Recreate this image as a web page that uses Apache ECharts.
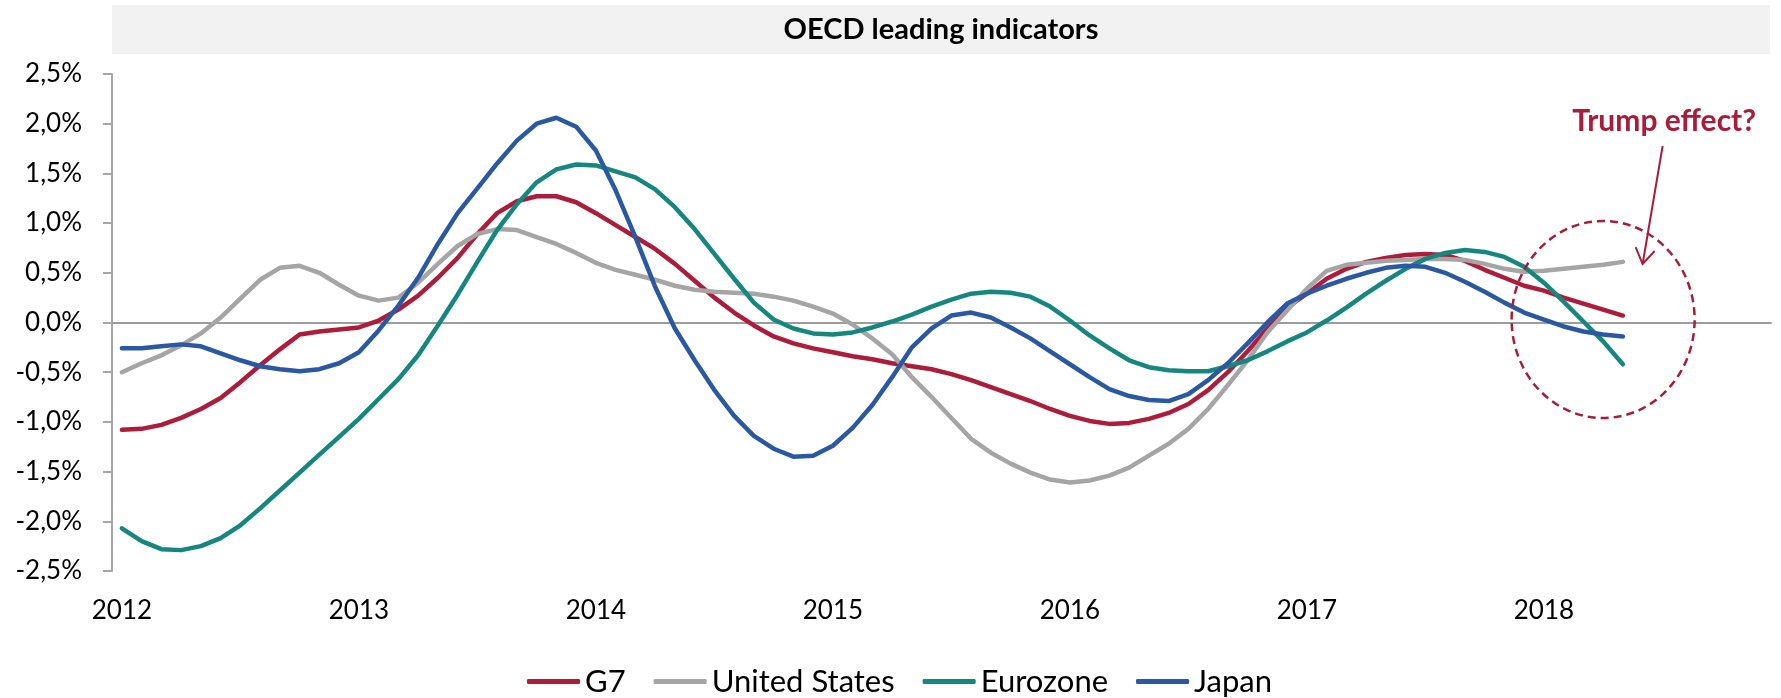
<!DOCTYPE html>
<html><head><meta charset="utf-8">
<script src="https://cdn.jsdelivr.net/npm/echarts@6/dist/echarts.min.js"></script>
<style>html,body{margin:0;padding:0;background:#fff}#c{width:1781px;height:698px}</style>
</head><body><div id="c"></div>
<script>
// ---- data ----
const years = ['2012','2013','2014','2015','2016','2017','2018'];
const months = ['01','02','03','04','05','06','07','08','09','10','11','12'];
const categories = [];
years.forEach(y => months.forEach(m => categories.push(y + '-' + m)));

const seriesNames = ['G7', 'United States', 'Eurozone', 'Japan'];

const g7 = [-1.08,-1.07,-1.03,-0.96,-0.87,-0.76,-0.60,-0.43,-0.27,-0.12,-0.09,-0.07,
  -0.05,0.02,0.13,0.27,0.45,0.65,0.89,1.10,1.22,1.27,1.27,1.21,
  1.10,0.98,0.86,0.74,0.59,0.42,0.25,0.10,-0.03,-0.14,-0.21,-0.26,
  -0.30,-0.34,-0.37,-0.41,-0.44,-0.47,-0.52,-0.58,-0.65,-0.72,-0.79,-0.87,
  -0.94,-0.99,-1.02,-1.01,-0.97,-0.91,-0.82,-0.68,-0.50,-0.29,-0.06,0.15,
  0.29,0.44,0.54,0.61,0.65,0.68,0.69,0.68,0.62,0.53,0.45,0.37,
  0.32,0.25,0.19,0.13,0.07];

const unitedStates = [-0.50,-0.41,-0.33,-0.23,-0.11,0.05,0.24,0.43,0.55,0.57,0.50,0.38,
  0.27,0.22,0.25,0.40,0.59,0.77,0.89,0.94,0.93,0.86,0.79,0.70,
  0.60,0.53,0.48,0.43,0.37,0.33,0.31,0.30,0.29,0.26,0.22,0.16,
  0.09,-0.02,-0.16,-0.32,-0.55,-0.75,-0.96,-1.17,-1.31,-1.42,-1.51,-1.58,
  -1.61,-1.59,-1.54,-1.46,-1.34,-1.22,-1.07,-0.87,-0.63,-0.38,-0.10,0.12,
  0.34,0.52,0.58,0.60,0.62,0.63,0.64,0.64,0.63,0.59,0.54,0.51,
  0.52,0.54,0.56,0.58,0.61];

const eurozone = [-2.07,-2.20,-2.28,-2.29,-2.25,-2.17,-2.04,-1.87,-1.69,-1.51,-1.33,-1.15,
  -0.97,-0.77,-0.57,-0.33,-0.03,0.28,0.61,0.93,1.19,1.41,1.54,1.59,
  1.58,1.52,1.46,1.34,1.16,0.94,0.69,0.44,0.20,0.03,-0.06,-0.11,
  -0.12,-0.10,-0.05,0.01,0.08,0.16,0.23,0.29,0.31,0.30,0.26,0.16,
  0.02,-0.13,-0.26,-0.38,-0.45,-0.48,-0.49,-0.49,-0.44,-0.38,-0.29,-0.19,
  -0.10,0.02,0.15,0.29,0.42,0.54,0.64,0.70,0.73,0.71,0.66,0.56,
  0.40,0.21,0.01,-0.19,-0.42];

const japan = [-0.26,-0.26,-0.24,-0.22,-0.24,-0.31,-0.38,-0.44,-0.47,-0.49,-0.47,-0.41,
  -0.30,-0.08,0.17,0.45,0.79,1.10,1.35,1.60,1.83,2.00,2.06,1.97,
  1.73,1.33,0.86,0.36,-0.06,-0.38,-0.68,-0.94,-1.14,-1.27,-1.35,-1.34,
  -1.24,-1.06,-0.83,-0.55,-0.25,-0.06,0.07,0.10,0.05,-0.05,-0.16,-0.29,
  -0.42,-0.55,-0.67,-0.74,-0.78,-0.79,-0.72,-0.58,-0.41,-0.21,0.00,0.19,
  0.29,0.37,0.44,0.50,0.55,0.57,0.56,0.50,0.41,0.31,0.20,0.10,
  0.03,-0.04,-0.09,-0.12,-0.14];

const yMin = -2.5, yMax = 2.5, yStep = 0.5;
const titleText = 'OECD leading indicators';
const annotationText = 'Trump effect?';
const annotationAnchor = ['2018-04', 0.03];

// ---- styles ----
const colors = ['#AE1C3B', '#A5A5A5', '#16877F', '#2A58A3'];
const FONT = 'Lato, "Noto Sans", sans-serif';
const crimson = '#A91D3A';

const chart = echarts.init(document.getElementById('c'), null, {renderer: 'canvas'});
const dataSets = [g7, unitedStates, eurozone, japan];

chart.setOption({
  animation: false,
  backgroundColor: '#ffffff',
  grid: {left: 112, right: 10, top: 74, bottom: 127, containLabel: false},
  legend: {
    data: seriesNames,
    left: 522, top: 661,
    itemWidth: 53, itemHeight: 5, itemGap: 28,
    icon: 'roundRect',
    textStyle: {fontFamily: FONT, fontSize: 31, color: '#000'}
  },
  xAxis: [{
    type: 'category', data: categories, boundaryGap: true,
    axisLine: {show: false, onZero: false},
    axisTick: {show: false},
    axisLabel: {
      interval: 11, margin: 27,
      fontFamily: FONT, fontSize: 26, color: '#000',
      formatter: v => v.slice(0, 4)
    },
    splitLine: {show: false}
  }, {
    type: 'category', data: categories, boundaryGap: true, position: 'bottom',
    axisLine: {show: true, onZero: true, lineStyle: {color: '#9C9C9C', width: 2}},
    axisTick: {show: false}, axisLabel: {show: false}, splitLine: {show: false}
  }],
  yAxis: {
    type: 'value', min: yMin, max: yMax, interval: yStep,
    axisLine: {show: true, lineStyle: {color: '#A6A6A6', width: 2}},
    axisTick: {show: true, length: 9, lineStyle: {color: '#A6A6A6', width: 2}},
    splitLine: {show: false},
    axisLabel: {
      margin: 30, fontFamily: FONT, fontSize: 26, color: '#000',
      formatter: v => v.toFixed(1).replace('.', ',') + '%'
    }
  },
  series: seriesNames.map((n, i) => ({
    name: n, type: 'line', data: dataSets[i], xAxisIndex: 0,
    symbol: 'none', smooth: false,
    lineStyle: {color: colors[i], width: 4.5, cap: 'round', join: 'round'},
    itemStyle: {color: colors[i]},
    z: 3 + i
  })),
  graphic: [
    {type: 'rect', id: 'band', shape: {x: 112, y: 5, width: 1658, height: 49},
     style: {fill: '#F2F2F2'}, z: 0, silent: true},
    {type: 'text', id: 'title', x: 941, y: 30,
     style: {text: titleText, font: 'bold 29px ' + FONT, fill: '#000',
             align: 'center', verticalAlign: 'middle'}, z: 1, silent: true}
  ]
});

const c = chart.convertToPixel({xAxisIndex: 0, yAxisIndex: 0}, annotationAnchor);
const cx = c[0], cy = c[1];
chart.setOption({
  graphic: [
    {type: 'ellipse', id: 'circ', shape: {cx: cx, cy: cy, rx: 91.5, ry: 98.5},
     style: {fill: 'none', stroke: crimson, lineWidth: 2.5, lineDash: [8, 5]}, z: 10, silent: true},
    {type: 'line', id: 'arrowLine', shape: {x1: cx + 59.5, y1: cy - 173.5, x2: cx + 39.5, y2: cy - 55.5},
     style: {stroke: crimson, lineWidth: 2}, z: 10, silent: true},
    {type: 'polyline', id: 'arrowHead', shape: {points: [[cx + 32.5, cy - 72.5], [cx + 39.5, cy - 55.5], [cx + 51.5, cy - 68.5]]},
     style: {fill: 'none', stroke: crimson, lineWidth: 2}, z: 10, silent: true},
    {type: 'text', id: 'annot', x: cx + 61, y: cy - 198,
     style: {text: annotationText, font: 'bold 30px ' + FONT, fill: crimson,
             align: 'center', verticalAlign: 'middle'}, z: 10, silent: true}
  ]
});
</script></body></html>
